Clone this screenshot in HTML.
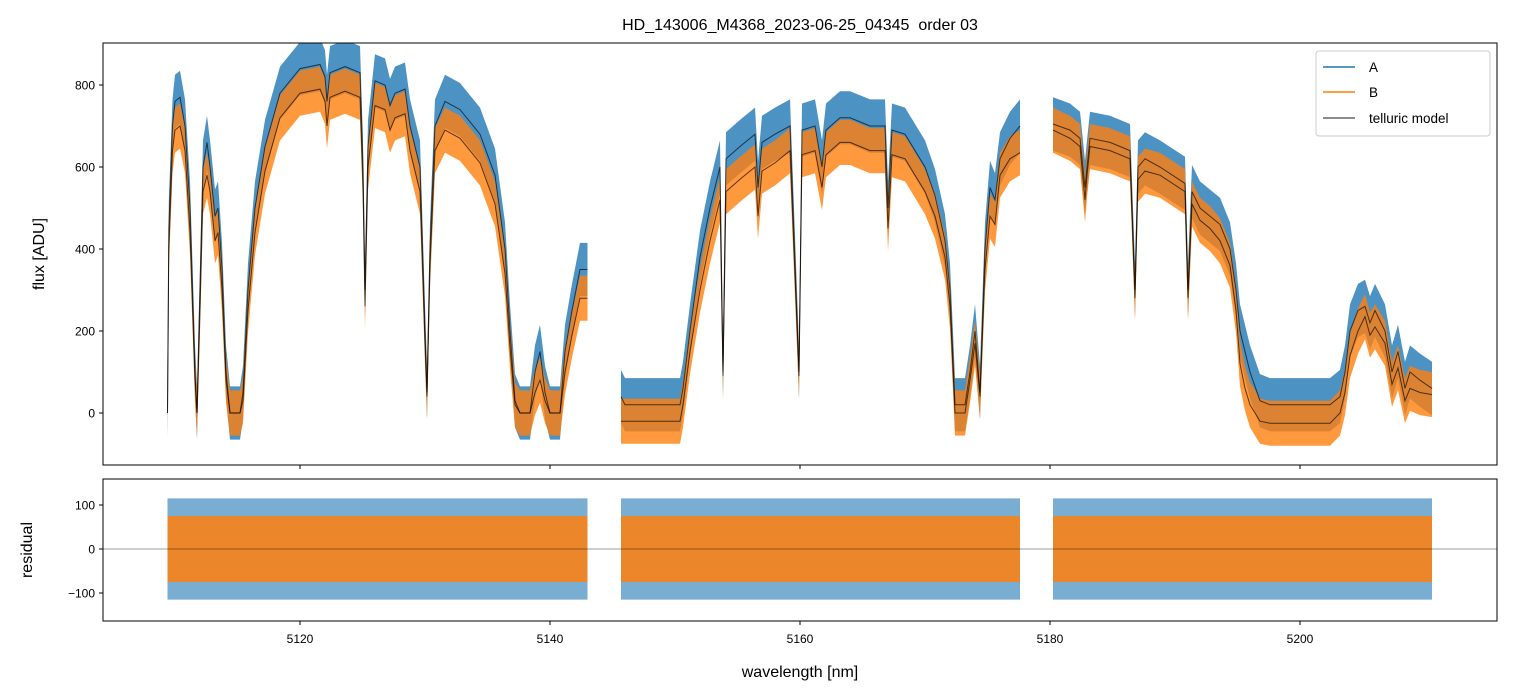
<!DOCTYPE html>
<html><head><meta charset="utf-8"><style>
html,body{margin:0;padding:0;background:#fff;}
svg{display:block;font-family:"Liberation Sans","DejaVu Sans",sans-serif;}
</style></head><body>
<svg id="chart" width="1513" height="696" viewBox="0 0 1513 696" xmlns="http://www.w3.org/2000/svg">
<defs>
<clipPath id="clipTop"><rect x="103" y="43" width="1394" height="422"/></clipPath>
<clipPath id="clipBot"><rect x="103" y="479" width="1394" height="142"/></clipPath>
</defs>
<rect width="1513" height="696" fill="#fff"/>
<text x="800" y="30" text-anchor="middle" font-size="16" style="white-space:pre">HD_143006_M4368_2023-06-25_04345  order 03</text>
<g id="gtop" clip-path="url(#clipTop)"></g>
<g id="gbot" clip-path="url(#clipBot)"></g>
<g id="axes"></g>
<text transform="translate(44,254) rotate(-90)" text-anchor="middle" font-size="16">flux [ADU]</text>
<text transform="translate(32,550) rotate(-90)" text-anchor="middle" font-size="16">residual</text>
<text x="800" y="677" text-anchor="middle" font-size="16">wavelength [nm]</text>
<g>
<rect x="1316" y="51" width="174" height="85" rx="3" fill="#fff" fill-opacity="0.85" stroke="#ccc"/>
<line x1="1323" y1="67" x2="1355" y2="67" stroke="#1f77b4" stroke-width="1.5"/>
<text x="1369" y="72" font-size="13.5">A</text>
<line x1="1323" y1="92" x2="1355" y2="92" stroke="#ff7f0e" stroke-width="1.5"/>
<text x="1369" y="97" font-size="13.5">B</text>
<line x1="1323" y1="118" x2="1355" y2="118" stroke="#000" stroke-opacity="0.6" stroke-width="1.5"/>
<text x="1369" y="123" font-size="13.5">telluric model</text>
</g>
</svg>
<script>
const seg1Wl = [5109.4,5109.5,5109.8,5110.0,5110.4,5110.8,5111.2,5111.6,5111.76,5112.0,5112.24,5112.56,5112.8,5113.2,5113.44,5113.76,5114.08,5114.4,5115.2,5115.44,5115.84,5116.4,5117.2,5118.4,5120.0,5121.6,5122.0,5122.16,5122.4,5123.6,5124.8,5125.04,5125.2,5125.44,5126.0,5126.8,5127.2,5127.6,5128.4,5128.8,5129.6,5130.0,5130.16,5130.4,5130.8,5131.6,5132.8,5134.4,5135.6,5136.4,5136.8,5137.2,5137.6,5138.4,5138.8,5139.2,5139.6,5140.0,5140.8,5141.2,5141.76,5142.4,5143.0];
const seg1A = [0,450,700,760,770,700,500,100,0,300,600,660,600,480,500,350,100,0,0,50,300,500,650,780,840,850,820,760,830,845,830,600,300,650,810,800,750,780,790,700,600,200,50,400,700,760,740,680,580,400,200,30,0,0,100,150,50,0,0,150,250,350,350];
const seg1B = [0,400,640,690,700,640,440,80,0,250,540,580,540,420,440,300,80,0,0,30,250,440,590,720,780,790,760,700,770,785,770,550,260,600,750,740,690,720,730,640,540,170,40,360,640,690,670,610,510,340,160,20,0,0,50,80,30,0,0,100,190,280,280];
const seg2Wl = [5145.68,5146.0,5147.2,5150.4,5150.64,5151.2,5152.0,5152.8,5153.6,5153.84,5154.08,5155.2,5156.4,5156.64,5156.96,5158.0,5159.2,5159.92,5160.16,5161.2,5161.76,5162.08,5163.2,5164.0,5164.8,5165.6,5166.8,5167.04,5167.36,5168.4,5169.2,5170.0,5170.8,5171.6,5172.0,5172.4,5173.2,5173.6,5174.0,5174.4,5174.8,5175.2,5175.6,5176.0,5176.8,5177.6];
const seg2A = [40,20,20,20,60,200,380,500,600,100,620,650,680,550,660,680,700,100,690,700,600,690,720,720,710,700,700,500,690,680,640,600,530,420,300,20,20,100,200,50,400,550,520,620,670,700];
const seg2B = [-20,-20,-20,-20,20,150,300,420,520,90,540,570,600,480,590,610,640,90,630,640,550,630,660,660,650,640,640,450,630,620,580,540,480,380,260,0,0,80,170,40,350,480,460,580,620,635];
const seg3Wl = [5180.24,5181.6,5182.4,5182.8,5182.96,5183.2,5184.8,5186.4,5186.8,5187.04,5187.6,5188.8,5190.8,5191.04,5191.36,5192.0,5192.8,5193.6,5194.4,5194.88,5195.2,5195.6,5196.0,5196.8,5197.6,5200.0,5202.4,5203.2,5203.6,5204.0,5204.64,5205.2,5205.6,5206.0,5206.8,5207.36,5207.84,5208.4,5208.8,5209.6,5210.56];
const seg3A = [705,690,670,550,600,670,660,640,300,600,620,600,560,300,540,500,480,460,400,300,200,150,100,30,20,20,20,40,100,200,250,260,220,250,200,100,150,60,100,80,60];
const seg3B = [690,670,650,520,580,650,640,620,280,570,590,580,540,280,510,470,450,420,360,250,120,60,20,-20,-25,-25,-25,0,50,140,200,235,190,210,170,70,110,30,60,50,45];
const noiseA = [65];
const noiseB = [55];
const residA = [115];
const residB = [75];
const topTicks = [0,200,400,600,800];
const botTicks = [-100,0,100];
const xTicks = [5120,5140,5160,5180,5200];

const NS='http://www.w3.org/2000/svg';
const X = w => 300 + (w-5120)*12.5;
const YT = v => 413 - v*0.41;
const YB = v => 549 - v*0.44;
function mk(tag, attrs, parent){const e=document.createElementNS(NS,tag);for(const k in attrs)e.setAttribute(k,attrs[k]);parent.appendChild(e);return e;}
const gTop=document.getElementById('gtop'), gBot=document.getElementById('gbot'), gAxes=document.getElementById('axes');
const segs=[[seg1Wl,seg1A,seg1B],[seg2Wl,seg2A,seg2B],[seg3Wl,seg3A,seg3B]];
function band(wl,vals,h,Y){let up=wl.map((w,i)=>X(w).toFixed(1)+','+Y(vals[i]+h).toFixed(1));let dn=wl.map((w,i)=>X(w).toFixed(1)+','+Y(vals[i]-h).toFixed(1)).reverse();return up.concat(dn).join(' ');}
function line(wl,vals){return wl.map((w,i)=>X(w).toFixed(1)+','+YT(vals[i]).toFixed(1)).join(' ');}
const zeros = a => a.map(()=>0);
segs.forEach((s,k)=>{
  const [wl,a,b]=s;
  const pa=mk('polygon',{points:band(wl,a,noiseA[0],YT),fill:'#1f77b4','fill-opacity':0.8},gTop);
  
  
  const pb=mk('polygon',{points:band(wl,b,noiseB[0],YT),fill:'#ff7f0e','fill-opacity':0.8},gTop);
  
  
  const la=mk('polyline',{points:line(wl,a),fill:'none',stroke:'#000','stroke-opacity':0.65,'stroke-width':1},gTop);
  
  
  const lb=mk('polyline',{points:line(wl,b),fill:'none',stroke:'#000','stroke-opacity':0.65,'stroke-width':1},gTop);
  
  
  const z=zeros(wl);
  const ra=mk('polygon',{points:band(wl,z,residA[0],YB),fill:'#1f77b4','fill-opacity':0.6},gBot);
  
  
  const rb=mk('polygon',{points:band(wl,z,residB[0],YB),fill:'#ff7f0e','fill-opacity':0.85},gBot);
  
  
});
const zl=mk('line',{x1:103,x2:1497,y1:YB(0),y2:YB(0),stroke:'#000','stroke-opacity':0.5,'stroke-width':0.8},gBot);


const f1=mk('rect',{x:103,y:43,width:1394,height:422,fill:'none',stroke:'#000','stroke-width':1},gAxes);


const f2=mk('rect',{x:103,y:479,width:1394,height:142,fill:'none',stroke:'#000','stroke-width':1},gAxes);


topTicks.forEach(v=>{const y=YT(v);
  mk('line',{x1:99,x2:103,y1:y,y2:y,stroke:'#000'},gAxes);
  const t=mk('text',{x:95,y:y+4.5,'text-anchor':'end','font-size':12},gAxes);t.textContent=v;
  
  });
botTicks.forEach(v=>{const y=YB(v);
  mk('line',{x1:99,x2:103,y1:y,y2:y,stroke:'#000'},gAxes);
  const t=mk('text',{x:95,y:y+4.5,'text-anchor':'end','font-size':12},gAxes);t.textContent=v===-100?'\u2212100':v;
  
  });
xTicks.forEach(v=>{const x=X(v);
  mk('line',{x1:x,x2:x,y1:465,y2:469,stroke:'#000'},gAxes);
  mk('line',{x1:x,x2:x,y1:621,y2:625,stroke:'#000'},gAxes);
  const t=mk('text',{x:x,y:643,'text-anchor':'middle','font-size':12},gAxes);t.textContent=v;
  
  });
</script>
</body></html>
